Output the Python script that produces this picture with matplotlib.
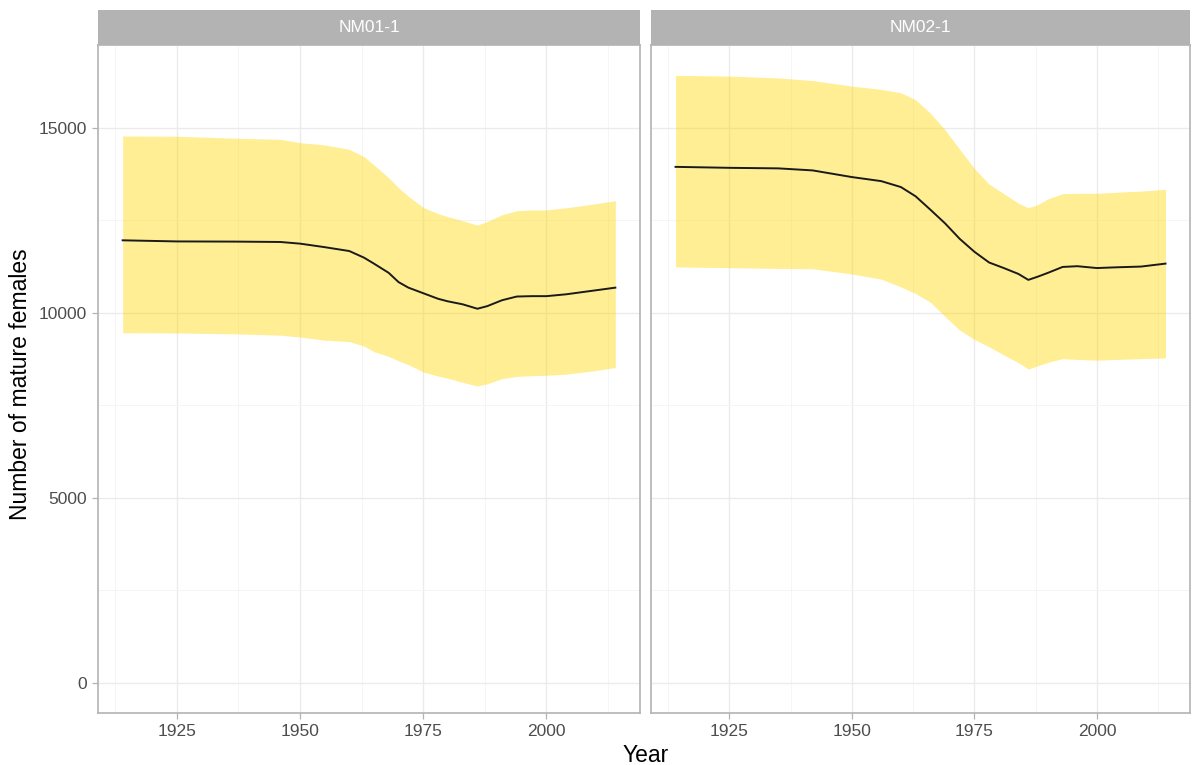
import numpy as np
import matplotlib
matplotlib.use("Agg")
import matplotlib.pyplot as plt

plt.rcParams['font.family'] = ['Liberation Sans', 'DejaVu Sans']

# NM01-1
years_nm01 = [1914, 1925, 1937, 1946, 1950, 1955, 1960, 1963, 1965, 1968, 1970, 1972, 1975,
              1978, 1980, 1983, 1986, 1988, 1991, 1994, 1997, 2000, 2004, 2009, 2014]
median_nm01 = [11960, 11930, 11925, 11915, 11870, 11775, 11670, 11490, 11330, 11080, 10830, 10680, 10530,
               10380, 10310, 10230, 10110, 10180, 10340, 10440, 10450, 10450, 10500, 10590, 10680]
upper_nm01 = [14780, 14775, 14720, 14690, 14600, 14540, 14420, 14220, 14000, 13650, 13380, 13150, 12850,
              12680, 12600, 12490, 12370, 12470, 12650, 12760, 12780, 12780, 12840, 12930, 13030]
lower_nm01 = [9460, 9455, 9430, 9395, 9345, 9260, 9220, 9100, 8950, 8820, 8700, 8600, 8400,
              8290, 8230, 8120, 8020, 8080, 8220, 8280, 8300, 8310, 8340, 8420, 8520]

# NM02-1
years_nm02 = [1914, 1925, 1935, 1942, 1950, 1956, 1960, 1963, 1966, 1969, 1972, 1975, 1978,
              1981, 1984, 1986, 1988, 1990, 1993, 1996, 2000, 2004, 2009, 2014]
median_nm02 = [13946, 13920, 13905, 13850, 13670, 13560, 13400, 13150, 12790, 12420, 12000, 11650, 11360,
               11210, 11050, 10890, 10980, 11080, 11240, 11260, 11210, 11230, 11250, 11330]
upper_nm02 = [16420, 16400, 16350, 16280, 16130, 16040, 15950, 15760, 15400, 14950, 14420, 13900, 13480,
              13220, 12960, 12840, 12930, 13080, 13220, 13230, 13230, 13260, 13290, 13340]
lower_nm02 = [11240, 11220, 11200, 11190, 11050, 10910, 10700, 10520, 10290, 9900, 9530, 9280, 9080,
              8860, 8650, 8480, 8570, 8660, 8760, 8740, 8720, 8740, 8760, 8780]

panels = [
    ("NM01-1", years_nm01, median_nm01, lower_nm01, upper_nm01),
    ("NM02-1", years_nm02, median_nm02, lower_nm02, upper_nm02),
]

W, H = 1192, 765
fig = plt.figure(figsize=(W / 100, H / 100), dpi=100)

grey70 = '#B3B3B3'
grid_col = '#EBEBEB'

# shared limits (ggplot style 5% expansion, y includes 0)
ymax = max(max(upper_nm01), max(upper_nm02))
xmin, xmax = 1914, 2014
xpad = 0.05 * (xmax - xmin)
ylim = (-0.05 * ymax, 1.05 * ymax)

panel_px = [(98, 640), (651, 1190)]
top_px, bottom_px, strip_top = 45, 713, 10

for i, (name, yrs, med, lo, hi) in enumerate(panels):
    x0, x1 = panel_px[i]
    ax = fig.add_axes([x0 / W, 1 - bottom_px / H, (x1 - x0) / W, (bottom_px - top_px) / H])
    ax.set_xlim(xmin - xpad, xmax + xpad)
    ax.set_ylim(*ylim)

    ax.set_xticks([1925, 1950, 1975, 2000])
    ax.set_xticks([1912.5, 1937.5, 1962.5, 1987.5, 2012.5], minor=True)
    ax.set_yticks([0, 5000, 10000, 15000])
    ax.set_yticks([2500, 7500, 12500], minor=True)
    ax.grid(True, which='major', color=grid_col, lw=1.0)
    ax.grid(True, which='minor', color='#F4F4F4', lw=0.6)
    ax.set_axisbelow(True)

    ax.fill_between(yrs, lo, hi, color='#FFD700', alpha=0.42, lw=0)
    ax.plot(yrs, med, color='#1a1a1a', lw=1.4)

    for s in ax.spines.values():
        s.set_color(grey70)
        s.set_linewidth(1.2)
    ax.tick_params(which='major', length=4, width=0.9, color=grey70,
                   labelsize=12.5, labelcolor='#4D4D4D', pad=4)
    ax.tick_params(which='minor', length=0)
    if i > 0:
        ax.set_yticklabels([])
        ax.tick_params(axis='y', length=0)

    sax = fig.add_axes([x0 / W, 1 - top_px / H, (x1 - x0) / W, (top_px - strip_top) / H])
    sax.set_facecolor(grey70)
    sax.set_xticks([])
    sax.set_yticks([])
    for s in sax.spines.values():
        s.set_visible(False)
    sax.text(0.5, 0.5, name, color='white', fontsize=12.5, ha='center', va='center',
             transform=sax.transAxes)

fig.text(646 / W, 1 - 762 / H, "Year", fontsize=16.5, ha='center', va='baseline')
fig.text(21 / W, 1 - 384 / H, "Number of mature females", fontsize=16.5,
         ha='center', va='center', rotation=90)

fig.savefig("out.png", dpi=100)
